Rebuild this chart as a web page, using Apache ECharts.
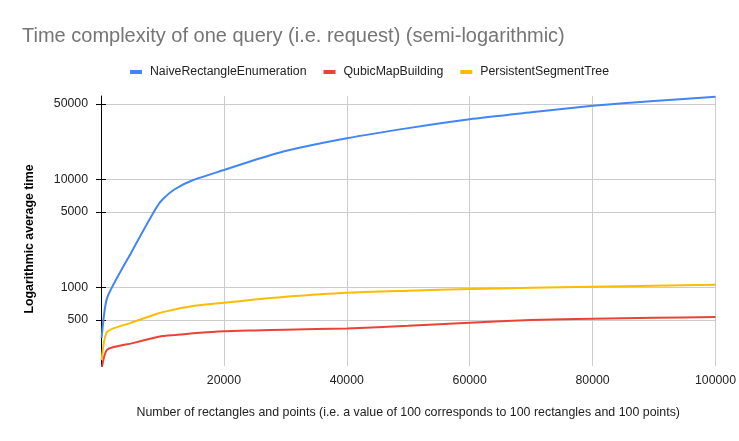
<!DOCTYPE html>
<html>
<head>
<meta charset="utf-8">
<script src="https://cdn.jsdelivr.net/npm/echarts@6/dist/echarts.min.js"></script>
<style>html,body{margin:0;padding:0;background:#fff}#c{width:739px;height:441px}</style>
</head>
<body>
<div id="c"></div>
<script>
const xValues = [100, 1000, 5000, 9000, 10000, 12000, 15000, 20000, 25000, 30000, 40000, 50000, 60000, 70000, 80000, 90000, 100000];
const naive = [340, 800, 2140, 5450, 6500, 8100, 9850, 12200, 15100, 18300, 24000, 29800, 36000, 41700, 48000, 53100, 58200];
const qubic = [175, 265, 303, 345, 354, 362, 375, 392, 399, 405, 417, 440, 470, 498, 512, 522, 531];
const persistent = [212, 388, 472, 566, 590, 625, 671, 720, 770, 818, 891, 930, 965, 990, 1013, 1035, 1057];
const yTicks = [500, 1000, 5000, 10000, 50000];
const xTicks = [20000, 40000, 60000, 80000, 100000];
const seriesNames = ['NaiveRectangleEnumeration', 'QubicMapBuilding', 'PersistentSegmentTree'];
const colors = ['#4285F4', '#EA4335', '#FBBC04'];

const pair = arr => xValues.map((x, i) => [x, arr[i]]);
const font = 'Arial, "Liberation Sans", sans-serif';
const fs = 12.3;

const chart = echarts.init(document.getElementById('c'), null, {renderer: 'canvas'});
chart.setOption({
  animation: false,
  color: colors,
  textStyle: {fontFamily: font},
  title: {
    text: 'Time complexity of one query (i.e. request) (semi-logarithmic)',
    left: 17, top: 21,
    textStyle: {fontFamily: font, fontSize: 20, fontWeight: 'normal', color: '#757575'}
  },
  legend: {
    top: 61, left: 'center',
    itemWidth: 12, itemHeight: 4, itemGap: 17,
    icon: 'rect',
    textStyle: {fontFamily: font, fontSize: fs, color: '#222', padding: [0, 0, 0, 3]},
    data: seriesNames
  },
  grid: {left: 101, right: 22, top: 96, bottom: 75, containLabel: false},
  xAxis: {
    type: 'value', min: 0, max: 100000, interval: 20000,
    name: 'Number of rectangles and points (i.e. a value of 100 corresponds to 100 rectangles and 100 points)',
    nameLocation: 'middle', nameGap: 41,
    nameTextStyle: {fontFamily: font, fontSize: 12.4, color: '#222'},
    axisLine: {show: false},
    axisTick: {show: false},
    axisLabel: {fontFamily: font, fontSize: fs, color: '#222', margin: 9,
      customValues: xTicks, formatter: v => String(v)},
    splitLine: {show: true, lineStyle: {color: '#cccccc', width: 1}}
  },
  yAxis: [{
    type: 'log', min: 187, max: 59100,
    name: 'Logarithmic average time',
    nameLocation: 'middle', nameGap: 65,
    nameTextStyle: {fontFamily: font, fontSize: fs, fontWeight: 'bold', color: '#000', padding: [0, 16, 0, 0]},
    axisLine: {show: true, lineStyle: {color: '#000', width: 1}},
    axisTick: {show: true, length: 5, lineStyle: {color: '#000'}, customValues: yTicks},
    axisLabel: {fontFamily: font, fontSize: fs, color: '#222', margin: 13, customValues: yTicks,
      formatter: v => String(Math.round(v))},
    splitLine: {show: true, lineStyle: {color: '#cccccc', width: 1}}
  }, {
    type: 'log', min: 187, max: 59100, position: 'left',
    axisLine: {show: false},
    axisTick: {show: true, inside: true, length: 5, lineStyle: {color: '#000'}, customValues: yTicks},
    axisLabel: {show: false},
    splitLine: {show: false}
  }],
  series: [
    {name: seriesNames[0], type: 'line', data: pair(naive), smooth: 0.2, showSymbol: false, lineStyle: {width: 2}},
    {name: seriesNames[1], type: 'line', data: pair(qubic), smooth: 0.2, showSymbol: false, lineStyle: {width: 2}},
    {name: seriesNames[2], type: 'line', data: pair(persistent), smooth: 0.2, showSymbol: false, lineStyle: {width: 2}}
  ]
});
</script>
</body>
</html>
